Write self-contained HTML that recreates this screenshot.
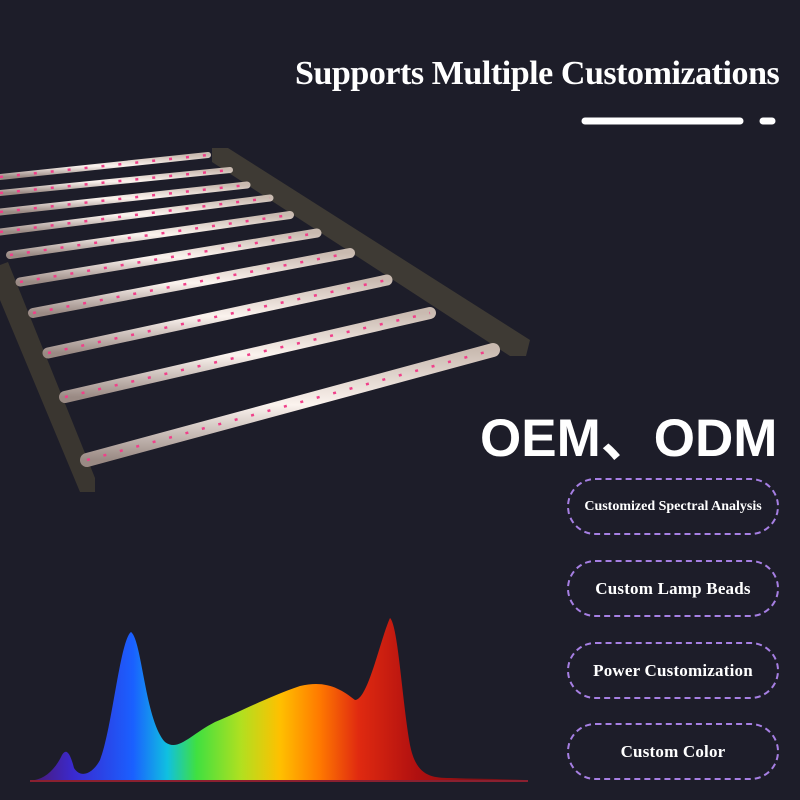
<!DOCTYPE html>
<html><head><meta charset="utf-8"><style>
html,body{margin:0;padding:0;background:#1d1d29;}
#c{position:relative;width:800px;height:800px;overflow:hidden;background:#1d1d29;}
.t{position:absolute;color:#fff;white-space:nowrap;}
.pill{position:absolute;left:567px;width:212px;height:57px;border:2.5px dashed #a67fe3;border-radius:30px;box-sizing:border-box;display:flex;align-items:center;justify-content:center;color:#fff;font-family:"Liberation Serif",serif;font-weight:bold;font-size:17px;letter-spacing:0.2px;}
</style></head><body><div id="c">
<svg width="800" height="800" style="position:absolute;left:0;top:0">
<defs>
<linearGradient id="bar" x1="0" y1="0" x2="0" y2="1">
<stop offset="0" stop-color="#c9bab0"/><stop offset="0.5" stop-color="#fbf3ee"/><stop offset="1" stop-color="#9a8a84"/></linearGradient>
<linearGradient id="sp" x1="35" y1="0" x2="525" y2="0" gradientUnits="userSpaceOnUse">
<stop offset="0" stop-color="#4a1a7a"/><stop offset="0.08" stop-color="#3a2ad0"/><stop offset="0.2" stop-color="#1a60ff"/><stop offset="0.27" stop-color="#10c0e0"/><stop offset="0.33" stop-color="#40e040"/><stop offset="0.42" stop-color="#b0e020"/><stop offset="0.5" stop-color="#ffc000"/><stop offset="0.58" stop-color="#ff7a00"/><stop offset="0.66" stop-color="#e02a10"/><stop offset="0.78" stop-color="#b01010"/><stop offset="1" stop-color="#601018"/></linearGradient>
</defs>
<polygon points="212,148 228,148 530,340 526,356 510,356 212,162" fill="#3e3a34"/>
<polygon points="0,265 8,262 95,478 95,492 80,492 0,300" fill="#3a3630"/>
<g stroke="url(#bar)" stroke-linecap="round">
<line x1="0" y1="177" x2="208" y2="155" stroke-width="6"/>
<line x1="0" y1="193" x2="230" y2="170" stroke-width="6"/>
<line x1="0" y1="212" x2="247" y2="185" stroke-width="7"/>
<line x1="0" y1="232" x2="270" y2="198" stroke-width="7"/>
<line x1="10" y1="255" x2="290" y2="215" stroke-width="8"/>
<line x1="20" y1="282" x2="317" y2="233" stroke-width="9"/>
<line x1="33" y1="313" x2="350" y2="253" stroke-width="10"/>
<line x1="48" y1="353" x2="387" y2="280" stroke-width="11"/>
<line x1="65" y1="397" x2="430" y2="313" stroke-width="12"/>
<line x1="87" y1="460" x2="493" y2="350" stroke-width="14"/>
</g>
<g stroke="#f0408a" stroke-width="2.5" stroke-dasharray="3 14">
<line x1="0" y1="177" x2="208" y2="155"/><line x1="0" y1="193" x2="230" y2="170"/>
<line x1="0" y1="212" x2="247" y2="185"/><line x1="0" y1="232" x2="270" y2="198"/>
<line x1="10" y1="255" x2="290" y2="215"/><line x1="20" y1="282" x2="317" y2="233"/>
<line x1="33" y1="313" x2="350" y2="253"/><line x1="48" y1="353" x2="387" y2="280"/>
<line x1="65" y1="397" x2="430" y2="313"/><line x1="87" y1="460" x2="493" y2="350"/>
</g>
<path d="M35,780 C45,778 55,770 62,755 C66,748 70,752 74,768 C80,778 92,775 100,760 C112,730 120,640 131,632 C142,640 145,720 165,742 C178,752 190,735 215,722 C240,712 265,698 300,686 C325,680 340,688 355,700 C368,700 380,640 390,618 C398,625 402,700 410,745 C416,775 430,778 450,778 C480,779 510,779 525,780 Z" fill="url(#sp)"/>
<line x1="30" y1="781" x2="528" y2="781" stroke="#8a2030" stroke-width="2"/>
<line x1="585" y1="121" x2="740" y2="121" stroke="#fff" stroke-width="7" stroke-linecap="round"/>
<line x1="763" y1="121" x2="772" y2="121" stroke="#fff" stroke-width="7" stroke-linecap="round"/>
</svg>
<div class="t" style="left:295px;top:55px;font-family:'Liberation Serif',serif;font-weight:bold;font-size:34px;letter-spacing:-0.45px;">Supports Multiple Customizations</div>
<div class="t" style="left:480px;top:408px;font-family:'Liberation Sans','Noto Sans CJK SC',sans-serif;font-weight:bold;font-size:53px;line-height:62px;">OEM、ODM</div>
<div class="pill" style="top:478px;font-size:14px;letter-spacing:0;">Customized Spectral Analysis</div>
<div class="pill" style="top:560px;">Custom Lamp Beads</div>
<div class="pill" style="top:642px;">Power Customization</div>
<div class="pill" style="top:723px;">Custom Color</div>
</div></body></html>
